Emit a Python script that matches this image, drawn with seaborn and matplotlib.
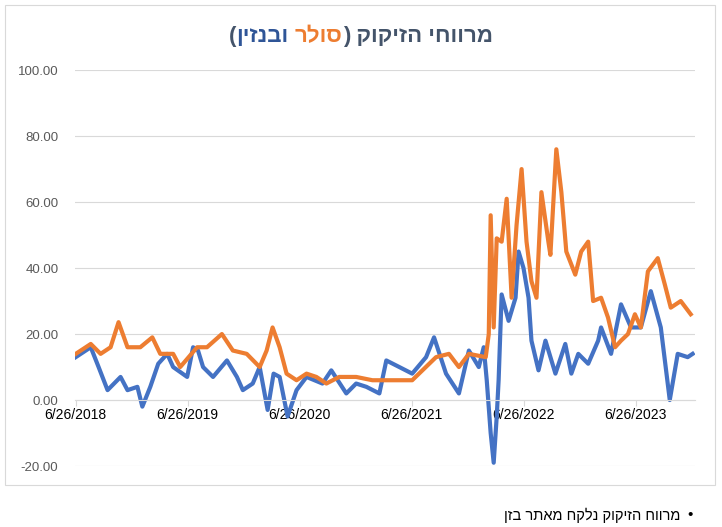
import pandas as pd
import matplotlib.pyplot as plt
import seaborn as sns
from matplotlib.patches import Rectangle

# --- datos (año decimal, valor) ---
benzin_t = [2018.483, 2018.617, 2018.687, 2018.767, 2018.883, 2018.945, 2019.034,
            2019.078, 2019.149, 2019.22, 2019.30, 2019.353, 2019.478, 2019.531, 2019.575, 2019.62,
            2019.709, 2019.833, 2019.922, 2019.975, 2020.064, 2020.126, 2020.197, 2020.25, 2020.304,
            2020.375, 2020.455, 2020.544, 2020.686, 2020.765, 2020.899, 2020.987, 2021.076, 2021.192,
            2021.254, 2021.37, 2021.485, 2021.609, 2021.68, 2021.787, 2021.902, 2021.991, 2022.08,
            2022.124, 2022.151, 2022.186, 2022.213, 2022.24, 2022.257, 2022.284, 2022.346, 2022.408,
            2022.435, 2022.479, 2022.524, 2022.55, 2022.613, 2022.675, 2022.764, 2022.852, 2022.906,
            2022.968, 2023.057, 2023.146, 2023.172, 2023.261, 2023.35, 2023.439, 2023.527, 2023.616,
            2023.705, 2023.785, 2023.856, 2023.945, 2023.989]
benzin_v = [13, 16, 10, 3, 7, 3, 4,
            -2, 4, 11, 14, 10, 7, 16, 15, 10,
            7, 12, 7, 3, 5, 10, -3, 8, 7,
            -5, 3, 7, 5, 9, 2, 5, 4, 2,
            12, 10, 8, 13, 19, 8, 2, 15, 10,
            16, 6, -10, -19, -5, 6, 32, 24, 31,
            45, 40, 31, 18, 9, 18, 8, 17, 8,
            14, 11, 18, 22, 14, 29, 22, 22, 33,
            22, 0, 14, 13, 14]

soler_t = [2018.483, 2018.617, 2018.705, 2018.794, 2018.865, 2018.945, 2019.06,
           2019.167, 2019.238, 2019.353, 2019.416, 2019.567, 2019.655, 2019.788, 2019.886, 2020.01,
           2020.126, 2020.188, 2020.241, 2020.304, 2020.366, 2020.455, 2020.544, 2020.632, 2020.721,
           2020.836, 2020.987, 2021.13, 2021.343, 2021.485, 2021.698, 2021.813, 2021.902, 2021.991,
           2022.142, 2022.169, 2022.186, 2022.213, 2022.24, 2022.284, 2022.329, 2022.373, 2022.417,
           2022.462, 2022.506, 2022.55, 2022.595, 2022.639, 2022.701, 2022.719, 2022.772, 2022.817,
           2022.861, 2022.941, 2022.994, 2023.057, 2023.101, 2023.172, 2023.234, 2023.297, 2023.35,
           2023.412, 2023.474, 2023.527, 2023.59, 2023.678, 2023.741, 2023.794, 2023.883, 2023.972]
soler_v = [14, 17, 14, 16, 23.6, 16, 16,
           19, 14, 14, 10, 16, 16, 20, 15, 14,
           10, 15, 22, 16, 8, 6, 8, 7, 5,
           7, 7, 6, 6, 6, 13, 14, 10, 14,
           13, 20, 56, 22, 49, 48, 61, 31, 53,
           70, 48, 36, 31, 63, 48, 44, 76, 63,
           45, 38, 45, 48, 30, 31, 25, 16, 18,
           20, 26, 22, 39, 43, 35, 28, 30, 26]

y_ticks = [-20, 0, 20, 40, 60, 80, 100]
x_ticks = ["2018-06-26", "2019-06-26", "2020-06-26", "2021-06-26", "2022-06-26", "2023-06-26"]


def to_date(years):
    s = pd.Series(years)
    base = pd.to_datetime(s.astype(int).astype(str) + "-01-01")
    return base + pd.to_timedelta((s - s.astype(int)) * 365.25, unit="D")


df_b = pd.DataFrame({"fecha": to_date(benzin_t), "valor": benzin_v})
df_s = pd.DataFrame({"fecha": to_date(soler_t), "valor": soler_v})

DARK = "#44546A"
BLUE = "#4472C4"
ORANGE = "#ED7D31"
plt.rcParams["font.family"] = ["Liberation Sans", "DejaVu Sans"]

fig = plt.figure(figsize=(7.22, 5.27), dpi=100)
ax = fig.add_axes([75 / 722, 0.1157, 620 / 722, 0.7513])

sns.lineplot(data=df_b, x="fecha", y="valor", color=BLUE, linewidth=3, ax=ax)
sns.lineplot(data=df_s, x="fecha", y="valor", color=ORANGE, linewidth=3, ax=ax)

ax.set_ylim(-20, 100)
ax.set_xlim(pd.Timestamp("2018-06-24"), pd.Timestamp("2024-01-05"))
ax.set_yticks(y_ticks)
ax.set_yticklabels([f"{v:.2f}" for v in y_ticks], color="#595959", fontsize=9.5)
ax.yaxis.grid(True, color="#D9D9D9", linewidth=0.8)
ax.set_axisbelow(True)
ax.tick_params(axis="y", length=0, pad=12)

xt = pd.to_datetime(x_ticks)
ax.set_xticks(xt)
ax.set_xticklabels([f"{d.month}/{d.day}/{d.year}" for d in xt], color="#595959", fontsize=10)
ax.spines["bottom"].set_position(("data", 0))
ax.spines["bottom"].set_color("#D9D9D9")
ax.tick_params(axis="x", length=4, color="#D9D9D9", pad=2)
for s in ["top", "right", "left"]:
    ax.spines[s].set_visible(False)
ax.set_xlabel("")
ax.set_ylabel("")

# marco del gráfico
fig.patches.append(Rectangle((5 / 722, 42 / 527), 710 / 722, 480 / 527, transform=fig.transFigure,
                             fill=False, edgecolor="#D9D9D9", linewidth=0.8))

# título multicolor (hebreo en orden visual)
piezas = [("(", DARK), ("ןיזנבו", "#2F5597"), (" ", DARK), ("רלוס", ORANGE), (") קוקיזה יחוורמ", DARK)]
fig.canvas.draw()
r = fig.canvas.get_renderer()
textos = [fig.text(0, 0.93, t, color=c, fontsize=16, fontweight="bold", va="center", ha="left")
          for t, c in piezas]
anchos = [t.get_window_extent(r).width / fig.bbox.width for t in textos]
x0 = 0.5 - sum(anchos) / 2
for t, w in zip(textos, anchos):
    t.set_x(x0)
    x0 += w

fig.text(680 / 722, 1 - 515 / 527, "ןזב רתאמ חקלנ קוקיזה חוורמ", ha="right", va="center", fontsize=10.5, color="black")
fig.text(690 / 722, 1 - 515 / 527, "•", ha="center", va="center", fontsize=11, color="black")

fig.savefig("out.png", dpi=100)
